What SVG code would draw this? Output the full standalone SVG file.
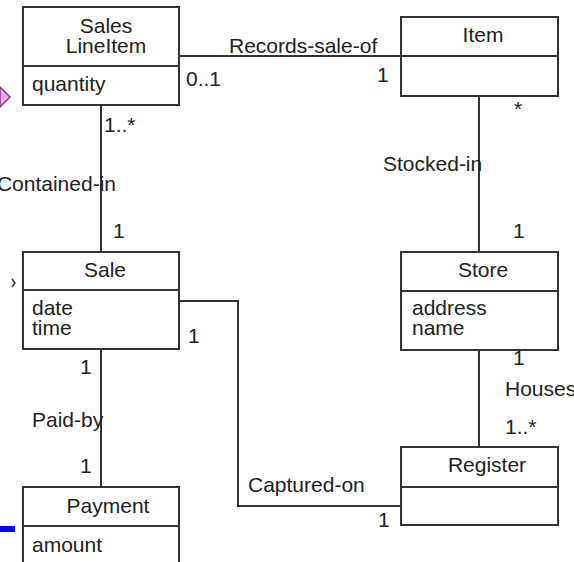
<svg xmlns="http://www.w3.org/2000/svg" width="574" height="562" viewBox="0 0 574 562">
<style>
.box{fill:#fff;stroke:#333;stroke-width:2}
.ln{fill:none;stroke:#333;stroke-width:2}
text{font-family:"Liberation Sans",Arial,sans-serif;font-size:21px;fill:#222}
.c{text-anchor:middle}
</style>
<rect width="574" height="562" fill="#fff"/>
<g id="connectors">
<line class="ln" x1="179" y1="56" x2="401" y2="56"/>
<line class="ln" x1="101" y1="105" x2="101" y2="252"/>
<line class="ln" x1="479" y1="96" x2="479" y2="252"/>
<line class="ln" x1="479" y1="350" x2="479" y2="447"/>
<line class="ln" x1="101" y1="349" x2="101" y2="487"/>
<polyline class="ln" points="179,301 238,301 238,506 401,506"/>
<text x="229" y="53">Records-sale-of</text>
<text x="186" y="86">0..1</text>
<text x="377" y="82">1</text>
<text x="104" y="132">1..*</text>
<text x="116" y="191" text-anchor="end">Contained-in</text>
<text x="113" y="238">1</text>
<text x="514" y="116">*</text>
<text x="383" y="171">Stocked-in</text>
<text x="513" y="238">1</text>
<text x="513" y="365">1</text>
<text x="505" y="396">Houses</text>
<text x="505" y="434">1..*</text>
<text x="188" y="343">1</text>
<text x="80" y="374">1</text>
<text x="32" y="427">Paid-by</text>
<text x="80" y="473">1</text>
<text x="248" y="492">Captured-on</text>
<text x="378" y="527">1</text>
</g>
<g id="SalesLineItem">
<rect class="box" x="23" y="7" width="156" height="98"/>
<line class="ln" x1="23" y1="66" x2="179" y2="66"/>
<text class="c" x="106" y="33">Sales</text>
<text class="c" x="106" y="53">LineItem</text>
<text x="32" y="91">quantity</text>
</g>
<g id="Item">
<rect class="box" x="401" y="17" width="157" height="79"/>
<line class="ln" x1="401" y1="56" x2="558" y2="56"/>
<text class="c" x="483" y="42">Item</text>
</g>
<g id="Sale">
<rect class="box" x="23" y="252" width="156" height="97"/>
<line class="ln" x1="23" y1="290" x2="179" y2="290"/>
<text class="c" x="105" y="277">Sale</text>
<text x="32" y="315">date</text>
<text x="32" y="335">time</text>
</g>
<g id="Store">
<rect class="box" x="401" y="252" width="157" height="98"/>
<line class="ln" x1="401" y1="291" x2="558" y2="291"/>
<text class="c" x="483" y="277">Store</text>
<text x="412" y="315">address</text>
<text x="412" y="335">name</text>
</g>
<g id="Register">
<rect class="box" x="401" y="447" width="157" height="78"/>
<line class="ln" x1="401" y1="487" x2="558" y2="487"/>
<text class="c" x="487" y="472">Register</text>
</g>
<g id="Payment">
<rect class="box" x="23" y="487" width="156" height="90"/>
<line class="ln" x1="23" y1="526" x2="179" y2="526"/>
<text class="c" x="108" y="513">Payment</text>
<text x="32" y="552">amount</text>
</g>
<g id="edge-fragments">
<polygon points="0,87 10,97 0,107" fill="#f4a8f4" stroke="#804080" stroke-width="1.5"/>
<polyline points="12,279 15,283 12,287" fill="none" stroke="#333" stroke-width="1.5"/>
<rect x="0" y="526" width="15" height="6" fill="#0000ee"/>
</g>
</svg>
